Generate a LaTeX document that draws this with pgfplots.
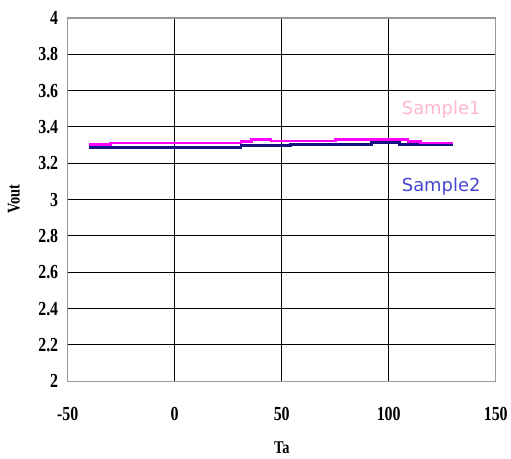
\documentclass[border=0pt]{standalone}
\usepackage{fontspec}
\setmainfont{Liberation Serif}
\newfontfamily\tickfont{Liberation Serif}[FakeStretch=0.8]
\newfontfamily\labfont{DejaVu Sans}
\usepackage{pgfplots}
\pgfplotsset{compat=1.18}
\definecolor{sOne}{RGB}{255,0,255}
\definecolor{sTwo}{RGB}{20,20,130}
\definecolor{lOne}{RGB}{255,182,205}
\definecolor{lTwo}{RGB}{70,70,205}
\begin{document}
\begin{tikzpicture}
\begin{axis}[
  scale only axis,
  width=430pt, height=365pt,
  xmin=-50, xmax=150, ymin=2, ymax=4,
  xtick={-50,0,50,100,150},
  ytick={2,2.2,2.4,2.6,2.8,3,3.2,3.4,3.6,3.8,4},
  yticklabels={2,2.2,2.4,2.6,2.8,3,3.2,3.4,3.6,3.8,4},
  xticklabels={-50,0,50,100,150},
  major tick length=0pt,
  grid=major,
  major grid style={black, line width=1pt},
  axis line style={gray!80, line width=1.5pt},
  ticklabel style={font=\tickfont\bfseries\fontsize{20}{20}\selectfont},
  yticklabel style={xshift=-6pt},
  xticklabel style={yshift=-23pt},
  clip=false,
]
\addplot[const plot, sTwo, line width=2.8pt] coordinates {
  (-40,3.287) (31,3.296) (54,3.305) (92,3.314) (105,3.305) (130,3.305)
};
\addplot[const plot, sOne, line width=2.8pt] coordinates {
  (-40,3.303) (-30,3.312) (31,3.321) (36,3.330) (45,3.323) (75,3.330) (109,3.321) (115,3.312) (130,3.312)
};
\node[font=\labfont\fontsize{18}{18}\selectfont, text=lOne] at (axis cs:124.5,3.493) {Sample1};
\node[font=\labfont\fontsize{18}{18}\selectfont, text=lTwo] at (axis cs:124.5,3.074) {Sample2};
\coordinate (sw) at (rel axis cs:0,0);
\end{axis}
\node[font=\tickfont\bfseries\fontsize{18}{18}\selectfont] at ([xshift=215pt,yshift=-67pt]sw) {Ta};
\node[font=\tickfont\bfseries\fontsize{18}{18}\selectfont, rotate=90] at ([xshift=-54pt,yshift=183pt]sw) {Vout};
\path ([xshift=-68pt,yshift=-78pt]sw) rectangle ++(511pt,461pt);
\end{tikzpicture}
\end{document}
